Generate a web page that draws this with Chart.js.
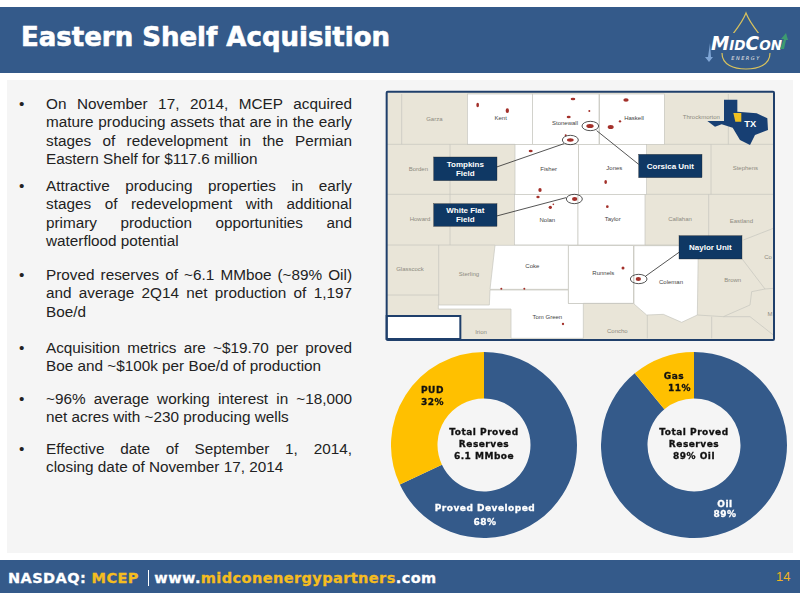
<!DOCTYPE html>
<html>
<head>
<meta charset="utf-8">
<title>Eastern Shelf Acquisition</title>
<script src="https://cdn.jsdelivr.net/npm/chart.js@4"></script>
<style>
html, body { margin: 0; padding: 0; background: #fff; }
#page { position: relative; width: 800px; height: 600px; overflow: hidden; font-family: "Liberation Sans", Arial, sans-serif; }
#page div { position: absolute; }
#header { left: 0; top: 7px; width: 800px; height: 66px; background: #345a8a; }
#title { left: 21px; top: 22px; font: bold 26px "DejaVu Sans", sans-serif; -webkit-text-stroke: 0.6px #fff; color: #fff; white-space: nowrap; }
#panel { left: 7px; top: 80px; width: 786px; height: 473px; background: #f5f5f5; }
#footer { left: 0; top: 560px; width: 800px; height: 33px; background: #345a8a; }
#nasdaq { left: 8px; top: 570px; font: bold 14.5px "DejaVu Sans", sans-serif; letter-spacing: 0.42px; -webkit-text-stroke: 0.3px; color: #fff; white-space: nowrap; }
#nasdaq b { color: #f5bd1f; }
#nasdaq span { border-left: 1px solid #fff; padding-left: 5px; margin-left: 4px; }
#pagenum { left: 776px; top: 569px; font-size: 13px; color: #f0b323; }
.bullet { left: 19px; width: 340px; font-size: 15.3px; line-height: 18.4px; color: #222; }
.bullet p { position: absolute; left: 27px; top: 0; width: 306px; margin: 0; }
.bullet span { display: block; white-space: nowrap; text-align: justify; text-align-last: justify; }
.bullet span:last-child { text-align-last: left; }
.lbl { font: bold 9px "DejaVu Sans", sans-serif; letter-spacing: 0.5px; -webkit-text-stroke: 0.3px; text-align: center; white-space: nowrap; line-height: 12px; color: #111; }
.wht { color: #fff; }
canvas { position: absolute; }
svg { position: absolute; }
</style>
</head>
<body>
<div id="page">
  <div id="header"></div>
  <div id="title">Eastern Shelf Acquisition</div>
  <svg style="left:700px;top:7px" width="100" height="66" viewBox="0 0 100 66">
    <path d="M46 6 C40 22 24 34 22 46 C22 58 34 62 46 62 C58 62 70 58 70 46 C68 34 52 22 46 6 Z" fill="none" stroke="#d9c25c" stroke-width="1.2"/>
    <rect x="6" y="26" width="86" height="20" fill="#345a8a"/>
    <text x="11" y="43" font-family="DejaVu Sans" font-weight="bold" font-style="italic" fill="#fff" textLength="71" lengthAdjust="spacingAndGlyphs"><tspan font-size="19">M</tspan><tspan font-size="14">ID</tspan><tspan font-size="19">C</tspan><tspan font-size="14">ON</tspan></text>
    <path d="M10 36 L8 50 L5 50 L9 55 L13 50 L11 50 Z" fill="#7fa6d6"/>
    <path d="M80 42 L84 32 L81 32 L86 26 L88 33 L86 33 L84 42 Z" fill="#3d9a70"/>
    <text x="46" y="53" text-anchor="middle" font-family="DejaVu Sans" font-size="5" font-style="italic" letter-spacing="1.5" fill="#e8e8e8">ENERGY</text>
  </svg>
  <div id="panel"></div>
  <div id="footer"></div>
  <div id="nasdaq">NASDAQ: <b>MCEP</b> <span>www.<b>midconenergypartners</b>.com</span></div>
  <div id="pagenum">14</div>

  <div class="bullet" style="top:95px">•<p><span>On November 17, 2014, MCEP acquired</span><span>mature producing assets that are in the early</span><span>stages of redevelopment in the Permian</span><span>Eastern Shelf for $117.6 million</span></p></div>
  <div class="bullet" style="top:177px">•<p><span>Attractive producing properties in early</span><span>stages of redevelopment with additional</span><span>primary production opportunities and</span><span>waterflood potential</span></p></div>
  <div class="bullet" style="top:266px">•<p><span>Proved reserves of ~6.1 MMboe (~89% Oil)</span><span>and average 2Q14 net production of 1,197</span><span>Boe/d</span></p></div>
  <div class="bullet" style="top:339px">•<p><span>Acquisition metrics are ~$19.70 per proved</span><span>Boe and ~$100k per Boe/d of production</span></p></div>
  <div class="bullet" style="top:390px">•<p><span>~96% average working interest in ~18,000</span><span>net acres with ~230 producing wells</span></p></div>
  <div class="bullet" style="top:440px">•<p><span>Effective date of September 1, 2014,</span><span>closing date of November 17, 2014</span></p></div>

  <svg style="left:380px;top:85px" width="420" height="260" viewBox="0 0 1260 780">
    <rect x="20" y="20" width="1162" height="745" fill="#e9e5d8"/>
    <g fill="#fff" stroke="#c4c4bc" stroke-width="2">
      <rect x="262" y="27" width="195" height="151"/>
      <rect x="457" y="27" width="200" height="151"/>
      <rect x="659" y="27" width="194" height="151"/>
      <rect x="405" y="178" width="191" height="150"/>
      <rect x="596" y="178" width="204" height="150"/>
      <rect x="403" y="328" width="191" height="152"/>
      <rect x="594" y="328" width="201" height="152"/>
      <path d="M345 481 H565 V613 H330 Z"/>
      <path d="M330 615 H565 V655 H610 V760 H393 V672 H175 V660 H328 Z"/>
      <rect x="565" y="482" width="195" height="173"/>
      <path d="M762 482 H955 L952 690 L905 712 L850 688 L800 690 L762 657 Z"/>
    </g>
    <g fill="none" stroke="#c4c4bc" stroke-width="2">
      <path d="M65 27 V178 M20 178 H405 M210 178 V480 M20 328 H405 M20 480 H345 M176 480 V660 M20 630 H176"/>
      <path d="M853 178 H1180 M993 178 V328 M800 328 H1180 M986 328 V480 M795 480 H895 M1045 27 V178"/>
      <path d="M1090 465 L1180 430 M1085 520 L1155 612 L1180 610 M1155 612 L1115 620 L1110 660 L1030 695 M952 690 L1030 695 L1110 695 L1180 750"/>
      <path d="M610 655 H760 M802 690 V760 M995 695 V760"/>
    </g>
    <g font-family="Liberation Sans" font-size="18" text-anchor="middle">
      <g fill="#444">
        <text x="362" y="106">Kent</text><text x="555" y="120">Stonewall</text><text x="762" y="106">Haskell</text>
        <text x="506" y="258">Fisher</text><text x="703" y="256">Jones</text><text x="502" y="410">Nolan</text>
        <text x="698" y="408">Taylor</text><text x="457" y="549">Coke</text><text x="670" y="571">Runnels</text>
        <text x="873" y="597">Coleman</text><text x="502" y="703">Tom Green</text>
      </g>
      <g fill="#8d8b80">
        <text x="163" y="108">Garza</text><text x="115" y="258">Borden</text><text x="120" y="408">Howard</text>
        <text x="90" y="557">Glasscock</text><text x="267" y="573">Sterling</text><text x="303" y="746">Irion</text>
        <text x="712" y="745">Concho</text><text x="964" y="103">Throckmorton</text><text x="1096" y="256">Stephens</text>
        <text x="900" y="408">Callahan</text><text x="1084" y="413">Eastland</text><text x="1058" y="591">Brown</text>
        <text x="1164" y="523">Co</text><text x="1170" y="693">M</text>
      </g>
    </g>
    <g fill="#a3302a">
      <ellipse cx="293" cy="60" rx="4" ry="7"/><ellipse cx="382" cy="77" rx="5" ry="7"/><ellipse cx="579" cy="42" rx="7" ry="4"/>
      <ellipse cx="738" cy="45" rx="8" ry="5"/><circle cx="628" cy="78" r="3"/><ellipse cx="566" cy="96" rx="6" ry="4"/>
      <circle cx="720" cy="109" r="3.5"/><ellipse cx="692" cy="126" rx="9" ry="6"/><ellipse cx="630" cy="123" rx="11" ry="6"/>
      <ellipse cx="571" cy="165" rx="10" ry="5"/><circle cx="557" cy="151" r="3"/><ellipse cx="452" cy="198" rx="6" ry="4"/>
      <ellipse cx="677" cy="291" rx="4" ry="6"/><ellipse cx="480" cy="315" rx="5" ry="6"/><ellipse cx="474" cy="336" rx="5" ry="4"/>
      <ellipse cx="584" cy="342" rx="8" ry="6"/><ellipse cx="511" cy="367" rx="5" ry="5"/><circle cx="520" cy="358" r="2.5"/>
      <circle cx="682" cy="365" r="4"/><circle cx="729" cy="549" r="4.5"/><ellipse cx="775" cy="582" rx="8" ry="6"/>
      <circle cx="549" cy="717" r="3.5"/><circle cx="364" cy="611" r="3"/><circle cx="433" cy="611" r="3"/>
    </g>
    <g fill="none" stroke="#333" stroke-width="2.5">
      <ellipse cx="631" cy="123" rx="25" ry="14"/><ellipse cx="571" cy="165" rx="24" ry="14"/>
      <ellipse cx="583" cy="342" rx="24" ry="14"/><ellipse cx="776" cy="582" rx="25" ry="14"/>
      <path d="M650 137 L776 238 M552 176 L350 246 M558 338 L350 393 M796 574 L897 502"/>
    </g>
    <path d="M1032 44 H1072 V80 L1130 85 L1162 100 L1164 135 L1125 150 L1110 180 L1080 165 L1058 128 L1025 118 L1005 125 L982 108 H1032 Z" fill="#173f73"/>
    <path d="M1060 84 H1084 V110 H1066 Z" fill="#f0c020"/>
    <text x="1111" y="126" font-family="Liberation Sans" font-weight="bold" font-size="28" text-anchor="middle" fill="#fff">TX</text>
    <g fill="#0f3864" stroke="#222" stroke-width="1">
      <rect x="161" y="216" width="190" height="71"/><rect x="161" y="356" width="190" height="68"/>
      <rect x="776" y="208" width="190" height="70"/><rect x="897" y="452" width="189" height="70"/>
    </g>
    <g font-family="Liberation Sans" font-weight="bold" font-size="24" text-anchor="middle" fill="#fff">
      <text x="256" y="246">Tompkins</text><text x="256" y="273">Field</text>
      <text x="256" y="385">White Flat</text><text x="256" y="411">Field</text>
      <text x="871" y="251">Corsica Unit</text><text x="991" y="495">Naylor Unit</text>
    </g>
    <rect x="20" y="693" width="221" height="69" fill="#fff" stroke="#1f3f6b" stroke-width="6"/>
    <rect x="20" y="20" width="1162" height="745" fill="none" stroke="#1f3f6b" stroke-width="6" rx="3"/>
  </svg>

  <canvas id="reservesChart" width="186" height="186" style="left:391px;top:352px;width:186px;height:186px"></canvas>
  <canvas id="productChart" width="186" height="186" style="left:601px;top:352px;width:186px;height:186px"></canvas>

  <div class="lbl" style="left:421px;top:384px;text-align:left">PUD<br>32%</div>
  <div class="lbl" style="left:434px;top:426px;width:100px">Total Proved<br>Reserves<br>6.1 MMboe</div>
  <div class="lbl wht" style="left:427px;top:501px;width:116px;line-height:14px">Proved Developed<br>68%</div>
  <div class="lbl" style="left:657px;top:370px;text-align:center">Gas<br>&nbsp;&nbsp;&nbsp;11%</div>
  <div class="lbl" style="left:644px;top:426px;width:100px">Total Proved<br>Reserves<br>89% Oil</div>
  <div class="lbl wht" style="left:695px;top:499px;width:60px;line-height:10px">Oil<br>89%</div>
</div>

<script>
const reserveLabels = ['Proved Developed', 'PUD'];
const reserveValues = [68, 32];
const productLabels = ['Oil', 'Gas'];
const productValues = [89, 11];
const sliceColors = ['#345a8a', '#ffc000'];

function donut(id, labels, values) {
    new Chart(document.getElementById(id).getContext('2d'), {
        type: 'doughnut',
        data: {
            labels: labels,
            datasets: [{
                data: values,
                backgroundColor: sliceColors,
                borderWidth: 0
            }]
        },
        options: {
            responsive: false,
            animation: false,
            cutout: '50%',
            plugins: {
                legend: { display: false },
                tooltip: { enabled: false }
            }
        }
    });
}

donut('reservesChart', reserveLabels, reserveValues);
donut('productChart', productLabels, productValues);
</script>
</body>
</html>
